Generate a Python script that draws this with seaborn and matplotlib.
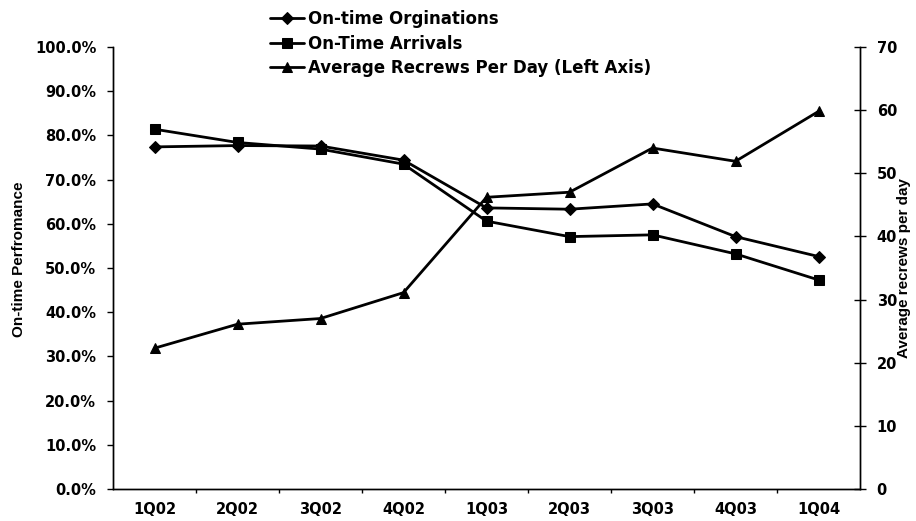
import matplotlib
matplotlib.use("Agg")
import matplotlib.pyplot as plt
from matplotlib.ticker import FixedLocator, FuncFormatter
import seaborn as sns
import pandas as pd

quarters = ['1Q02', '2Q02', '3Q02', '4Q02', '1Q03', '2Q03', '3Q03', '4Q03', '1Q04']
originations = [77.4, 77.7, 77.6, 74.4, 63.6, 63.3, 64.5, 57.1, 52.6]
arrivals = [81.4, 78.4, 76.9, 73.5, 60.6, 57.1, 57.5, 53.2, 47.3]
recrews = [22.3, 26.1, 27.0, 31.1, 46.2, 47.0, 54.0, 51.9, 59.8]

sns.set_style("ticks")
plt.rcParams['font.family'] = ['DejaVu Sans']
plt.rcParams['font.weight'] = 'bold'
plt.rcParams['text.color'] = 'black'
plt.rcParams['axes.labelcolor'] = 'black'
plt.rcParams['xtick.color'] = 'black'
plt.rcParams['ytick.color'] = 'black'

df = pd.DataFrame({'q': range(len(quarters)),
                   'orig': originations, 'arr': arrivals, 'rec': recrews})

fig = plt.figure(figsize=(9.16, 5.21), dpi=100)
ax = fig.add_axes([113 / 916, 32 / 521, (860 - 113) / 916, (489 - 47) / 521])
ax2 = ax.twinx()

lw = 2.0
sns.lineplot(data=df, x='q', y='orig', ax=ax, color='black', lw=lw,
             marker='D', markersize=6.5, markeredgecolor='black',
             label='On-time Orginations', legend=False)
sns.lineplot(data=df, x='q', y='arr', ax=ax, color='black', lw=lw,
             marker='s', markersize=6.5, markeredgecolor='black',
             label='On-Time Arrivals', legend=False)
sns.lineplot(data=df, x='q', y='rec', ax=ax2, color='black', lw=lw,
             marker='^', markersize=7, markeredgecolor='black',
             label='Average Recrews Per Day (Left Axis)', legend=False)

ax.set_xlim(-0.5, len(quarters) - 0.5)
ax.set_ylim(0, 100)
ax2.set_ylim(0, 70)

ax.set_yticks(range(0, 101, 10))
ax.yaxis.set_major_formatter(FuncFormatter(lambda v, p: f"{v:.1f}%"))
ax2.set_yticks(range(0, 71, 10))

ax.set_xticks(range(len(quarters)))
ax.set_xticklabels(quarters)
ax.xaxis.set_minor_locator(FixedLocator([i + 0.5 for i in range(len(quarters) - 1)]))
ax.tick_params(axis='x', which='major', length=0, pad=9, labelsize=10.5)
ax.tick_params(axis='x', which='minor', length=3, width=1, direction='out', color='black')
ax.tick_params(axis='y', length=4, width=1, direction='out', color='black', labelsize=10.5, pad=8)
ax2.tick_params(axis='y', length=8, width=1, direction='inout', color='black', labelsize=10.5, pad=8)

for a in (ax, ax2):
    a.spines['top'].set_visible(False)
    for s in ('left', 'right', 'bottom'):
        a.spines[s].set_color('black')
        a.spines[s].set_linewidth(1.0)
    for lab in a.get_xticklabels() + a.get_yticklabels():
        lab.set_fontweight('bold')
        lab.set_color('black')

ax.set_xlabel('')
ax.set_ylabel('On-time Perfromance', fontsize=11, fontweight='bold', family='Liberation Sans')
ax2.set_ylabel('Average recrews per day', fontsize=11, fontweight='bold', family='Liberation Sans')
ax.yaxis.set_label_coords(-0.116, 0.52)
ax2.yaxis.set_label_coords(1.05, 0.5)

h1, l1 = ax.get_legend_handles_labels()
h2, l2 = ax2.get_legend_handles_labels()
fig.legend(h1 + h2, l1 + l2, loc='upper left', bbox_to_anchor=(262 / 916, 1 - 2 / 521),
           frameon=False, borderpad=0, handlelength=2.0, handletextpad=0.25,
           labelspacing=0.38, prop={'size': 12, 'weight': 'bold'})

fig.savefig('out.png', dpi=100)
